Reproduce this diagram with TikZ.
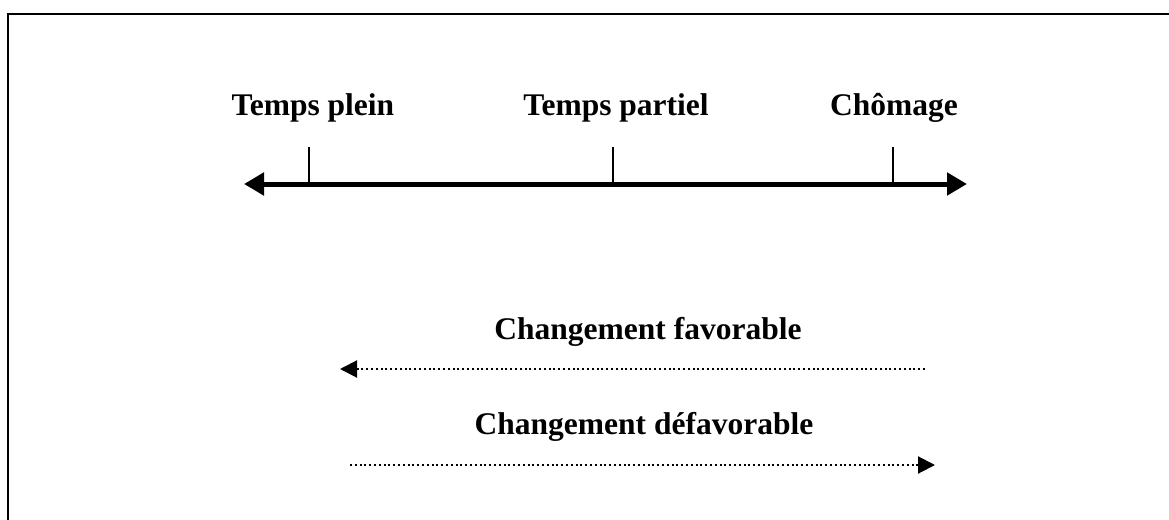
\documentclass[tikz,border=0pt]{standalone}
\usepackage{fontspec}
\setmainfont{Liberation Serif}
\usetikzlibrary{arrows.meta}
\begin{document}
\begin{tikzpicture}[x=1pt,y=-1pt,
  lbl/.style={font=\fontsize{31.5}{36}\selectfont\bfseries, anchor=base, inner sep=0pt},
  axis/.style={line width=5pt, {Triangle[length=20pt,width=22pt]}-{Triangle[length=20pt,width=22pt]}},
  tick/.style={line width=1.5pt},
  dotarrow/.style={line width=2pt, dash pattern=on 2pt off 2.8pt, -{Triangle[length=17pt,width=17pt]}}]
\useasboundingbox (0,0) rectangle (1169,519);
\draw[line width=2.6pt, line cap=rect] (8,530) -- (8,14) -- (1180,14);
\coordinate (aL) at (244,184);
\coordinate (aR) at (967,184);
\draw[axis] (aL) -- (aR);
\coordinate (t1) at (309,184); \coordinate (t1t) at (309,147);
\coordinate (t2) at (613,184); \coordinate (t2t) at (613,147);
\coordinate (t3) at (893,184); \coordinate (t3t) at (893,147);
\draw[tick] (t1) -- (t1t);
\draw[tick] (t2) -- (t2t);
\draw[tick] (t3) -- (t3t);
\node[lbl] (plein) at (313,115) {Temps plein};
\node[lbl] (partiel) at (616,115) {Temps partiel};
\node[lbl] (chom) at (894,115) {Chômage};
\node[lbl] (fav) at (648,339) {Changement favorable};
\node[lbl] (defav) at (644,434) {Changement défavorable};
\coordinate (f1) at (925,369); \coordinate (f2) at (340,369);
\draw[dotarrow] (f1) -- (f2);
\coordinate (d1) at (350,465); \coordinate (d2) at (935,465);
\draw[dotarrow] (d1) -- (d2);
\end{tikzpicture}
\end{document}
